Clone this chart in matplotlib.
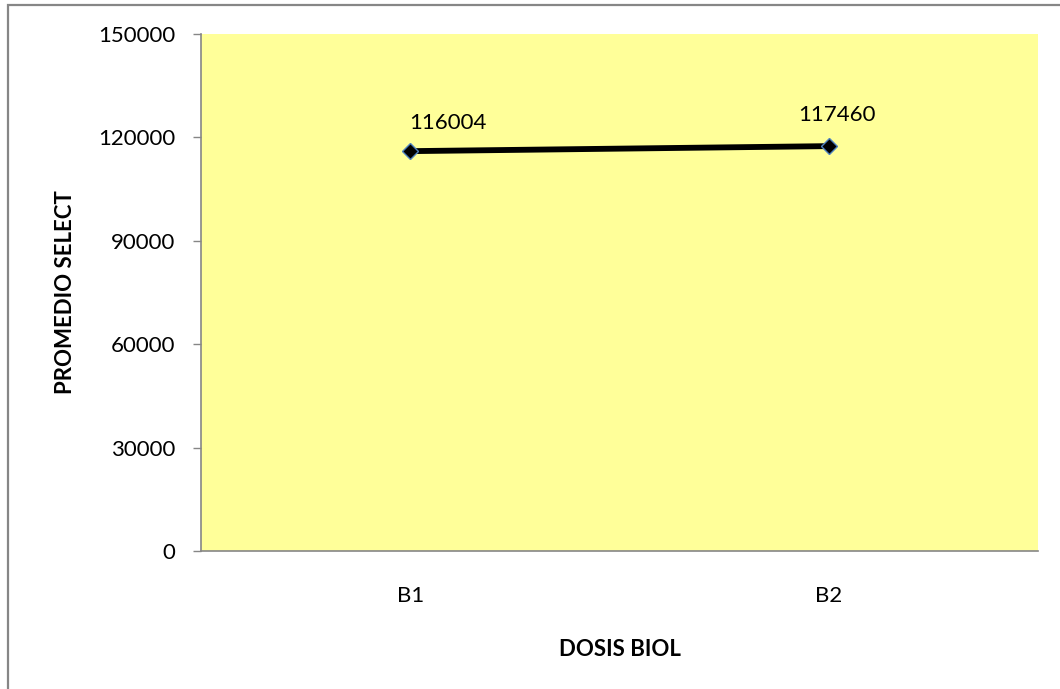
import matplotlib.pyplot as plt
from matplotlib.patches import Rectangle

plt.rcParams['font.family'] = ['Lato', 'DejaVu Sans']

dosis = ['B1', 'B2']
promedio = [116004, 117460]
yticks = [0, 30000, 60000, 90000, 120000, 150000]

fig = plt.figure(figsize=(10.6, 6.89), dpi=100)
ax = fig.add_axes([0.1896, 0.2003, 0.7896, 0.7504])
ax.set_facecolor('#ffff99')

x = list(range(len(dosis)))
ax.plot(x, promedio, color='black', lw=4.2, marker='D', ms=8.5,
        mfc='black', mec='#4f81bd', mew=1.0, zorder=3)

# value labels over each point
offsets = [(27, 13), (6, 15)]
for xi, v, off in zip(x, promedio, offsets):
    ax.annotate(str(v), (xi, v), xytext=off, textcoords='offset points',
                ha='center', va='bottom', fontsize=16)

ax.set_xlim(-0.5, 1.5)
ax.set_ylim(0, 150000)
ax.set_xticks(x)
ax.set_xticklabels(dosis)
ax.set_yticks(yticks)
ax.set_yticklabels([str(t) for t in yticks])
ax.tick_params(axis='y', length=5.5, width=1, color='#868686', labelsize=16, pad=13)
ax.tick_params(axis='x', length=0, labelsize=16, pad=25)

for side in ['top', 'right']:
    ax.spines[side].set_visible(False)
for side in ['left', 'bottom']:
    ax.spines[side].set_color('#868686')
    ax.spines[side].set_linewidth(1.2)

ax.set_xlabel('DOSIS BIOL', fontsize=16, fontweight='bold', labelpad=24)
ax.set_ylabel('PROMEDIO SELECT', fontsize=16, fontweight='bold', labelpad=16)

# outer chart frame
fig.patches.append(Rectangle((8 / 1060, -0.05), 1.2, 1 - 5 / 689 + 0.05,
                             transform=fig.transFigure, fill=False,
                             edgecolor='#868686', lw=1.6))

fig.savefig('out.png', dpi=100)
